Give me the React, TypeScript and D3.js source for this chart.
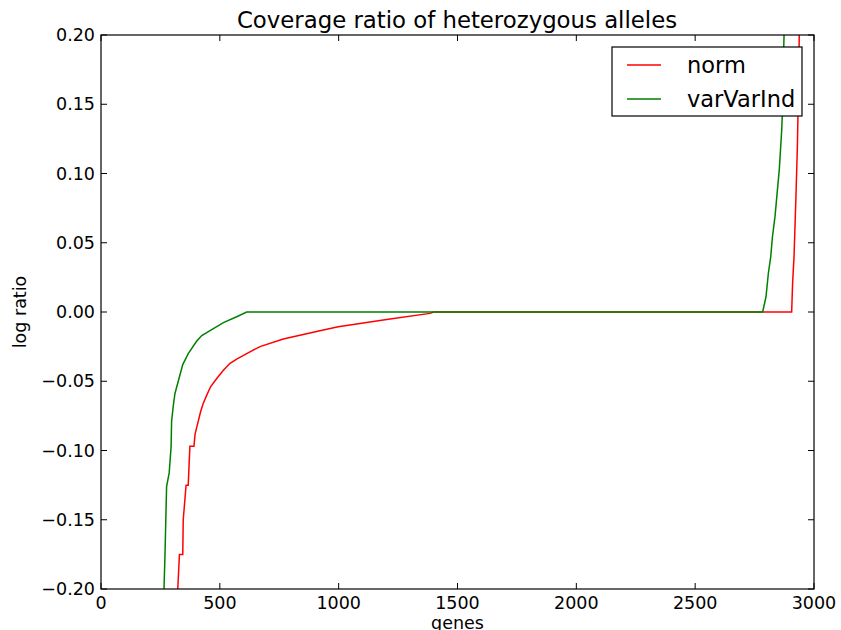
import React, { useEffect, useRef } from "react";
import * as d3 from "d3";

const normX = [323, 330, 344, 346, 358, 367, 374, 391, 396, 409, 419, 430, 445, 461, 487, 515, 543, 571, 613, 669, 767, 921, 998, 1216, 1384, 1400, 2906, 2910, 2916, 2924, 2930, 2934, 2938];
const normY = [-0.2, -0.175, -0.175, -0.15, -0.125, -0.125, -0.097, -0.097, -0.088, -0.079, -0.072, -0.066, -0.06, -0.054, -0.048, -0.042, -0.037, -0.034, -0.03, -0.025, -0.0195, -0.0135, -0.0106, -0.0051, -0.001, 0, 0, 0.021, 0.04, 0.083, 0.119, 0.155, 0.2];
const varX = [265, 269, 276, 287, 295, 297, 304, 311, 325, 344, 367, 403, 424, 515, 571, 613, 2784, 2798, 2808, 2818, 2825, 2836, 2846, 2854, 2864, 2868, 2871, 2874];
const varY = [-0.2, -0.177, -0.126, -0.116, -0.097, -0.079, -0.068, -0.059, -0.05, -0.038, -0.03, -0.021, -0.017, -0.0077, -0.0034, 0, 0, 0.011, 0.028, 0.04, 0.054, 0.069, 0.088, 0.103, 0.131, 0.148, 0.18, 0.2];
const xTicks = [0, 500, 1000, 1500, 2000, 2500, 3000];
const yTicks = [-0.2, -0.15, -0.1, -0.05, 0, 0.05, 0.1, 0.15, 0.2];
const seriesNames = ["norm", "varVarInd"];
const seriesColors = ["#ff0000", "#008000"];

const W = 841, H = 630;
const M = { left: 101, right: 814, top: 35, bottom: 589 };
const FONT = "DejaVu Sans, sans-serif";

export default function App() {
  const ref = useRef<SVGSVGElement>(null);
  useEffect(() => {
    document.body.style.margin = "0";
    const svg = d3.select(ref.current);
    svg.selectAll("*").remove();
    const x = d3.scaleLinear().domain([0, 3000]).range([M.left, M.right]);
    const y = d3.scaleLinear().domain([-0.2, 0.2]).range([M.bottom, M.top]);

    svg.append("rect").attr("width", W).attr("height", H).attr("fill", "white");
    svg.append("defs").append("clipPath").attr("id", "clip")
      .append("rect").attr("x", M.left).attr("y", M.top)
      .attr("width", M.right - M.left).attr("height", M.bottom - M.top);

    const series = [
      normX.map((v, i) => [v, normY[i]] as [number, number]),
      varX.map((v, i) => [v, varY[i]] as [number, number]),
    ];
    const line = d3.line<[number, number]>().x(d => x(d[0])).y(d => y(d[1]));
    const g = svg.append("g").attr("clip-path", "url(#clip)");
    series.forEach((s, i) => {
      g.append("path").attr("d", line(s)!).attr("fill", "none")
        .attr("stroke", seriesColors[i]).attr("stroke-width", 1.5);
    });

    // frame
    svg.append("rect").attr("x", M.left).attr("y", M.top)
      .attr("width", M.right - M.left).attr("height", M.bottom - M.top)
      .attr("fill", "none").attr("stroke", "black").attr("stroke-width", 1.2);

    const tl = 6;
    xTicks.forEach(t => {
      const px = x(t);
      svg.append("line").attr("x1", px).attr("x2", px).attr("y1", M.bottom).attr("y2", M.bottom - tl).attr("stroke", "black");
      svg.append("line").attr("x1", px).attr("x2", px).attr("y1", M.top).attr("y2", M.top + tl).attr("stroke", "black");
      svg.append("text").attr("x", px).attr("y", 609).attr("text-anchor", "middle")
        .attr("font-family", FONT).attr("font-size", 17.5).text(String(t));
    });
    yTicks.forEach(t => {
      const py = y(t);
      svg.append("line").attr("x1", M.left).attr("x2", M.left + tl).attr("y1", py).attr("y2", py).attr("stroke", "black");
      svg.append("line").attr("x1", M.right).attr("x2", M.right - tl).attr("y1", py).attr("y2", py).attr("stroke", "black");
      svg.append("text").attr("x", M.left - 6).attr("y", py + 6).attr("text-anchor", "end")
        .attr("font-family", FONT).attr("font-size", 17.5)
        .text(d3.format(".2f")(t).replace("-", "\u2212"));
    });

    svg.append("text").attr("x", 457).attr("y", 28).attr("text-anchor", "middle")
      .attr("font-family", FONT).attr("font-size", 22.8).text("Coverage ratio of heterozygous alleles");
    svg.append("text").attr("x", (M.left + M.right) / 2).attr("y", 629).attr("text-anchor", "middle")
      .attr("font-family", FONT).attr("font-size", 17.5).text("genes");
    svg.append("text").attr("transform", `translate(26,${(M.top + M.bottom) / 2}) rotate(-90)`)
      .attr("text-anchor", "middle").attr("font-family", FONT).attr("font-size", 17.5).text("log ratio");

    // legend
    const lg = svg.append("g");
    lg.append("rect").attr("x", 612).attr("y", 47).attr("width", 190).attr("height", 69)
      .attr("fill", "white").attr("stroke", "black").attr("stroke-width", 1.2);
    seriesNames.forEach((n, i) => {
      const ly = 65 + i * 34;
      lg.append("line").attr("x1", 627).attr("x2", 661).attr("y1", ly).attr("y2", ly)
        .attr("stroke", seriesColors[i]).attr("stroke-width", 1.5);
      lg.append("text").attr("x", 687).attr("y", ly + 8).attr("font-family", FONT)
        .attr("font-size", 22.5).text(n);
    });
  }, []);
  return <svg ref={ref} width={W} height={H} style={{ display: "block" }} />;
}
